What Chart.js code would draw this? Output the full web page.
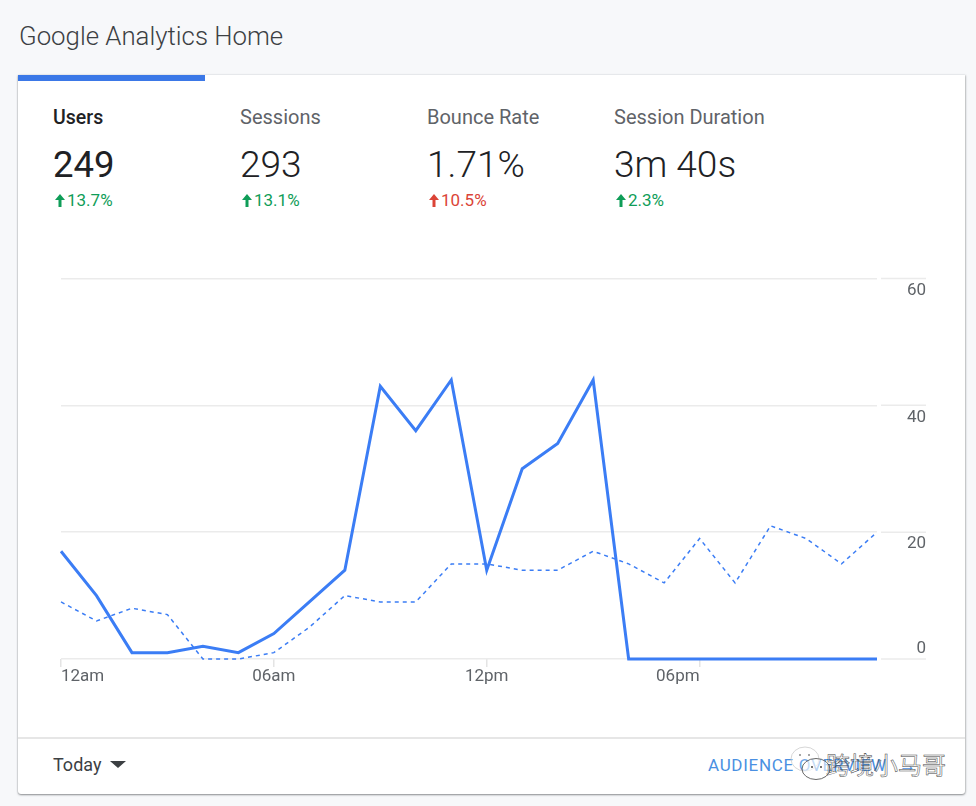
<!DOCTYPE html>
<html>
<head>
<meta charset="utf-8">
<style>
    html, body { margin: 0; padding: 0; }
    body { width: 976px; height: 806px; background: #f7f8fa; font-family: Roboto, sans-serif; position: relative; overflow: hidden; }
    .abs { position: absolute; white-space: nowrap; }
    .title { left: 19px; top: 20px; font-size: 25.8px; font-weight: 300; line-height: 33px; color: #3c4043; }
    .card { left: 18px; top: 75px; width: 947px; height: 719px; background: #fff; border-radius: 0 0 3px 3px; box-shadow: 0 1px 2px rgba(60,64,67,.55), 1px 0 2px rgba(60,64,67,.18), -1px 0 1px rgba(60,64,67,.05); }
    .tabbar { left: 18px; top: 75px; width: 187px; height: 6px; background: #3b78e7; }
    .mlabel { top: 106px; font-size: 20px; line-height: 23px; color: #5f6368; }
    .mlabel.on { color: #202124; font-weight: 500; font-size: 19.5px; }
    .mvalue { top: 143px; font-size: 37px; line-height: 43px; font-weight: 300; color: #202124; }
    .mvalue.on { font-weight: 400; font-size: 36.5px; }
    .mdelta { top: 191px; font-size: 17px; line-height: 19px; padding-left: 14px; }
    .mdelta svg { position: absolute; left: 2px; top: 3px; }
    .up { color: #0f9d58; }
    .down { color: #db4437; }
    canvas { position: absolute; left: 0; top: 260px; }
    .divider { left: 18px; top: 737px; width: 947px; height: 2px; background: #e6e6e6; }
    .today { left: 53px; top: 754px; font-size: 18px; line-height: 22px; color: #3c4043; }
    .caret { left: 110px; top: 761px; width: 0; height: 0; border-left: 8px solid transparent; border-right: 8px solid transparent; border-top: 7px solid #3c4043; }
    .link { left: 708px; top: 754px; font-size: 17px; line-height: 22px; color: #4a90e2; letter-spacing: .7px; }
    .link span { margin-left: 12px; }
    .mark { left: 826px; top: 748px; font-family: "Noto Sans CJK SC", sans-serif; font-size: 24px; line-height: 32px; color: rgba(255,255,255,.2); -webkit-text-stroke: .5px #444; }
    .bubble { left: 778px; top: 744px; }
</style>
</head>
<body>
<div class="abs title">Google Analytics Home</div>
<div class="abs card"></div>
<div class="abs tabbar"></div>
<div id="metrics"></div>
<canvas id="home-chart" width="976" height="440"></canvas>
<div class="abs divider"></div>
<div class="abs today">Today</div>
<div class="abs caret"></div>
<div class="abs link">AUDIENCE OVERVIEW<span>&#8594;</span></div>
<svg class="abs bubble" width="60" height="50" viewBox="0 0 60 50">
    <ellipse cx="27" cy="15" rx="14" ry="12" fill="#fff" fill-opacity=".2" stroke="#c4c4c4" stroke-width=".7"/>
    <circle cx="22" cy="11" r="1" fill="#888"/><circle cx="31" cy="11" r="1" fill="#888"/>
    <ellipse cx="38" cy="25" rx="14" ry="10.5" fill="#fff" fill-opacity=".6" stroke="#444" stroke-width=".8"/>
    <circle cx="34" cy="23" r="1" fill="#444"/><circle cx="43" cy="23" r="1" fill="#444"/>
</svg>
<div class="abs mark">跨境小马哥</div>

<script src="https://cdn.jsdelivr.net/npm/chart.js"></script>
<script type="text/javascript">
    const hours = ['12am', '1am', '2am', '3am', '4am', '5am', '06am', '7am', '8am', '9am', '10am', '11am',
        '12pm', '1pm', '2pm', '3pm', '4pm', '5pm', '06pm', '7pm', '8pm', '9pm', '10pm', '11pm'];
    const usersToday = [17, 10, 1, 1, 2, 1, 4, 9, 14, 43, 36, 44, 14, 30, 34, 44, 0, 0, 0, 0, 0, 0, 0, 0];
    const usersPrevious = [9, 6, 8, 7, 0, 0, 1, 5, 10, 9, 9, 15, 15, 14, 14, 17, 15, 12, 19, 12, 21, 19, 15, 20];
    const xTickLabels = ['12am', '06am', '12pm', '06pm'];
    const yTickValues = [0, 20, 40, 60];

    const metricNames = ['Users', 'Sessions', 'Bounce Rate', 'Session Duration'];
    const metricValues = ['249', '293', '1.71%', '3m 40s'];
    const metricDeltas = ['13.7%', '13.1%', '10.5%', '2.3%'];
    const metricTrends = ['up', 'up', 'down', 'up'];
    const metricLefts = [53, 240, 427, 614];

    let html = '';
    metricNames.forEach((name, i) => {
        const on = i === 0 ? ' on' : '';
        const left = metricLefts[i];
        html += `<div class="abs mlabel${on}" style="left:${left}px">${name}</div>`;
        html += `<div class="abs mvalue${on}" style="left:${left}px">${metricValues[i]}</div>`;
        html += `<div class="abs mdelta ${metricTrends[i]}" style="left:${left}px">` +
            `<svg width="10" height="13" viewBox="0 0 10 13"><path d="M5 0 L10 6 H6.5 V13 H3.5 V6 H0 Z" fill="currentColor"/></svg>` +
            `${metricDeltas[i]}</div>`;
    });
    document.getElementById('metrics').innerHTML = html;

    // right gutter stubs, and labels that do not sit centred on their tick
    const gutterPlugin = {
        id: 'gutter',
        afterDraw(chart) {
            const ctx = chart.ctx;
            const x = chart.scales.x;
            const y = chart.scales.y;
            ctx.save();
            ctx.font = '17px Roboto';
            ctx.fillStyle = '#5f6368';
            yTickValues.forEach(v => {
                const py = y.getPixelForValue(v);
                ctx.strokeStyle = '#ebebeb';
                ctx.lineWidth = 1.5;
                ctx.beginPath();
                ctx.moveTo(881, py);
                ctx.lineTo(926, py);
                ctx.stroke();
                ctx.textAlign = 'right';
                ctx.textBaseline = 'middle';
                ctx.fillText(String(v), 926, v === 0 ? py - 10 : py + 12);
            });
            xTickLabels.forEach((label, i) => {
                const px = x.getPixelForValue(hours.indexOf(label));
                ctx.textAlign = i === 0 ? 'left' : (i === 3 ? 'right' : 'center');
                ctx.textBaseline = 'middle';
                ctx.fillText(label, px, y.bottom + 18);
            });
            ctx.restore();
        }
    };

    new Chart(document.getElementById('home-chart'), {
        type: 'line',
        data: {
            labels: hours,
            datasets: [
                { label: 'Users', data: usersToday, borderColor: '#3b7df5', borderWidth: 3, borderJoinStyle: 'miter', pointRadius: 0, tension: 0, clip: false },
                { label: 'Previous', data: usersPrevious, borderColor: '#3b7df5', borderWidth: 1.5, borderDash: [4, 4], borderJoinStyle: 'miter', pointRadius: 0, tension: 0, clip: false }
            ]
        },
        options: {
            responsive: false,
            animation: false,
            layout: { padding: { left: 61, right: 99, top: 18.5, bottom: 33 } },
            plugins: { legend: { display: false }, tooltip: { enabled: false } },
            scales: {
                x: {
                    type: 'category',
                    offset: false,
                    border: { display: false },
                    grid: { drawOnChartArea: false, drawTicks: true, tickLength: 8, color: '#e4e4e4', lineWidth: 1.5 },
                    ticks: { display: false, autoSkip: false },
                    afterBuildTicks: s => { s.ticks = s.ticks.filter(t => xTickLabels.includes(hours[t.value])); },
                    afterFit: s => { s.height = 8; }
                },
                y: {
                    position: 'right',
                    min: 0,
                    max: 60,
                    border: { display: false },
                    grid: { drawTicks: false, color: '#ebebeb', lineWidth: 1.5 },
                    ticks: { display: false, stepSize: 20 },
                    afterFit: s => { s.width = 0; }
                }
            }
        },
        plugins: [gutterPlugin]
    });
</script>
</body>
</html>
